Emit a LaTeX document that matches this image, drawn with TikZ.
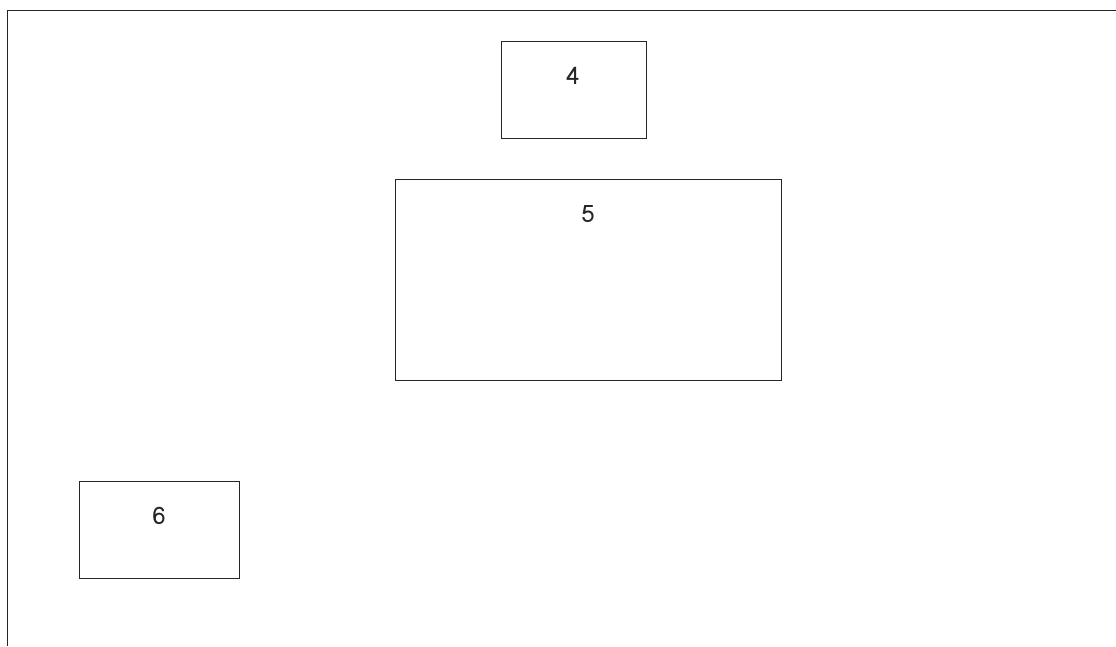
\documentclass[tikz,border=0pt]{standalone}
\usepackage{fontspec}
\newfontfamily\lomafont[Script=Thai]{Loma}
\begin{document}
\begin{tikzpicture}[x=1pt,y=-1pt,
  box/.style={draw=black!85,line width=1.4pt,fill=none},
  lbl/.style={font=\lomafont\fontsize{24}{28}\selectfont,text=black!85,inner sep=0pt}]
\useasboundingbox (0,0) rectangle (1116,646);
\coordinate (tl) at (7.5,10.5);
\coordinate (tr) at (1116,10.5);
\coordinate (bl) at (7.5,646);
\draw[line width=1.7pt,black!85] (tr) -- (tl) -- (bl);
\node[box,minimum width=145pt,minimum height=97pt,anchor=north west,inner sep=0pt] (b4) at (501,41) {};
\node[box,minimum width=386pt,minimum height=201pt,anchor=north west,inner sep=0pt] (b5) at (395,179) {};
\node[box,minimum width=160pt,minimum height=97pt,anchor=north west,inner sep=0pt] (b6) at (79,481) {};
\node[lbl] (t4) at (573,76) {4};
\node[lbl] (t5) at (588,214) {5};
\node[lbl] (t6) at (159,516) {6};
\end{tikzpicture}
\end{document}
